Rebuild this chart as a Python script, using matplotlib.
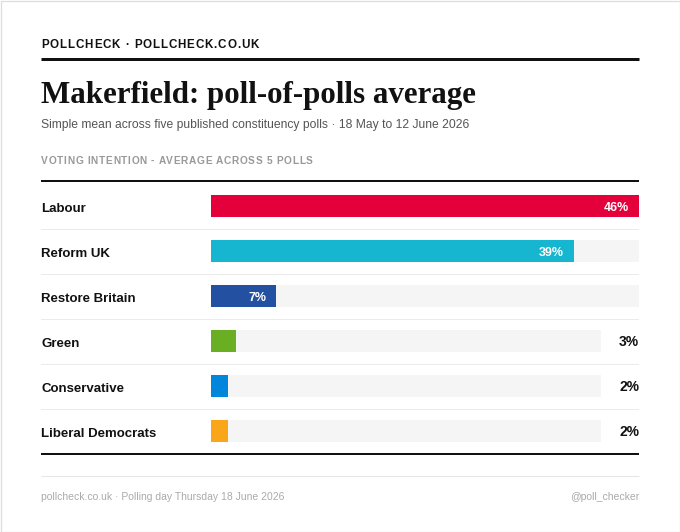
import matplotlib
matplotlib.use("Agg")
import matplotlib.pyplot as plt
from matplotlib.lines import Line2D
from matplotlib.patches import Rectangle

W, H = 680, 532

# ---- data ----
parties = ["Labour", "Reform UK", "Restore Britain", "Green", "Conservative", "Liberal Democrats"]
shares = [46, 39, 7, 3, 2, 2]
colors = ["#E4003B", "#16B6D0", "#2350A0", "#6AAF23", "#0087DC", "#FAA61A"]

brand = "POLLCHECK · POLLCHECK.CO.UK"
title = "Makerfield: poll-of-polls average"
subtitle = "Simple mean across five published constituency polls · 18 May to 12 June 2026"
section = "VOTING INTENTION - AVERAGE ACROSS 5 POLLS"
footer_left = "pollcheck.co.uk · Polling day Thursday 18 June 2026"
footer_right = "@poll_checker"

SANS = ["Liberation Sans", "DejaVu Sans"]
SERIF = ["Liberation Serif", "DejaVu Serif"]

fig = plt.figure(figsize=(W / 100, H / 100), dpi=100)
fig.patch.set_facecolor("white")
renderer = fig.canvas.get_renderer()


def fx(x):
    return x / W


def fy(y):
    return 1 - y / H


def rule(y, lw_px=1.0, color="#111111", x0=41, x1=639):
    fig.add_artist(Line2D([fx(x0), fx(x1)], [fy(y), fy(y)], transform=fig.transFigure,
                          color=color, lw=lw_px * 0.72, solid_capstyle="butt"))


def text(x, y, s, **kw):
    return fig.text(fx(x), fy(y), s, **kw)


def tracked(x, y, s, track_px, **kw):
    probe = fig.text(0, 0, "|", **kw)
    bw = probe.get_window_extent(renderer).width
    probe.remove()
    for i, ch in enumerate(s):
        if i:
            p = fig.text(0, 0, s[:i] + "|", **kw)
            w = p.get_window_extent(renderer).width - bw
            p.remove()
        else:
            w = 0
        if ch != " ":
            fig.text(fx(x + w + i * track_px), fy(y), ch, **kw)


# outer border
fig.add_artist(Rectangle((0.5 / W, 0.5 / H), 1 - 1 / W, 1 - 1 / H, transform=fig.transFigure,
                         fill=False, ec="#dddddd", lw=0.9))

# header
tracked(41, 48, brand, 0.85, family=SANS, fontweight="bold", size=8.4, color="#111111", va="baseline")
rule(59.3, lw_px=3)
text(41, 103, title, family=SERIF, fontweight="bold", size=22.35, color="#111111", va="baseline")
text(41, 128, subtitle, family=SANS, size=8.75, color="#555555", va="baseline")
tracked(41, 164, section, 0.7, family=SANS, fontweight="bold", size=7.3, color="#999999", va="baseline")
rule(181, lw_px=2)

# bars
ROW_TOP, ROW_H = 183.5, 45
n = len(parties)
LABEL_COL, TRACK_FULL, TRACK_SHORT = 170, 428, 390
ppu = TRACK_FULL / max(shares)
ax = fig.add_axes([fx(41), fy(ROW_TOP + n * ROW_H), fx(639) - fx(41), n * ROW_H / H])
ax.set_xlim(-LABEL_COL / ppu, TRACK_FULL / ppu)
ax.set_ylim(n - 0.5, -0.5)
ax.axis("off")
bar_h = 22 / ROW_H
name_off = 6.3 / ROW_H
pct_off = 4.7 / ROW_H

for i, (p, v, c) in enumerate(zip(parties, shares, colors)):
    inside = v >= 5
    scale = 1.0 if inside else TRACK_SHORT / TRACK_FULL
    track_end = (TRACK_FULL if inside else TRACK_SHORT) / ppu
    ax.barh(i, track_end, height=bar_h, color="#F5F5F5", left=0)
    ax.barh(i, v * scale, height=bar_h, color=c)
    if inside:
        ax.text(v * scale - 10 / ppu, i + pct_off, f"{v}%", ha="right", va="baseline", color="white",
                fontweight="bold", size=9, family=SANS)
    else:
        ax.text(TRACK_FULL / ppu, i + pct_off, f"{v}%", ha="right", va="baseline", color="#111111",
                fontweight="bold", size=10, family=SANS)
    ax.text(-LABEL_COL / ppu, i + name_off, p, ha="left", va="baseline", color="#111111",
            fontweight="bold", size=9.5, family=SANS)
    if i < n - 1:
        ax.axhline(i + 0.5, color="#EBEBEB", lw=0.72)

rule(453.5, lw_px=2)

# footer
rule(475.5, lw_px=1, color="#E6E6E6")
text(41, 500, footer_left, family=SANS, size=7.45, color="#AAAAAA", va="baseline")
text(639, 500, footer_right, family=SANS, size=7.45, color="#AAAAAA", va="baseline", ha="right")

fig.savefig("out.png", dpi=100, facecolor="white")
